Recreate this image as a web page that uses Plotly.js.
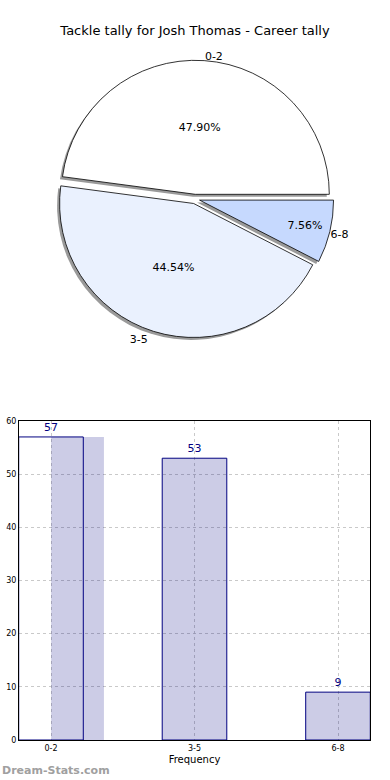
<!DOCTYPE html>
<html><head><meta charset="utf-8">
<script src="https://cdn.plot.ly/plotly-3.0.1.min.js"></script>
<style>html,body{margin:0;padding:0;background:#fff}</style>
</head><body><div id="chart" style="width:390px;height:780px"></div>
<script>
// ---- data ----
const categories = ['0-2', '3-5', '6-8'];
const tallies = [57, 53, 9];
const chartTitle = 'Tackle tally for Josh Thomas - Career tally';
const xTitle = 'Frequency';
const yTickValues = [0, 10, 20, 30, 40, 50, 60];
const watermark = 'Dream-Stats.com';

// ---- styles ----
const W = 390, H = 780;
const sliceColors = ['#ffffff', '#eaf1fe', '#c6d9fe'];
const font = 'DejaVu Sans, sans-serif';
const pullAmt = 0.035;
const pieR = 134, pieCx = 195, pieCy = 199;
const box = pieR * (2 + 2 * pullAmt);
const pd = {
  x: [(pieCx - box / 2) / W, (pieCx + box / 2) / W],
  y: [1 - (pieCy + box / 2) / H, 1 - (pieCy - box / 2) / H]
};
const sdx = -2.5 / W, sdy = -2.5 / H;
const shadowDomain = {x: [pd.x[0] + sdx, pd.x[1] + sdx], y: [pd.y[0] + sdy, pd.y[1] + sdy]};
// first slice starts at 3 o'clock and runs counter-clockwise (matplotlib style)
const total = tallies.reduce((a, b) => a + b, 0);
const rot = 90 - tallies[0] / total * 360;

// first bar fill is shifted in the original
const fillOffsets = [0.001, -0.225, -0.225];
const fillWidths = [0.368, 0.45, 0.45];

const traces = [
  {
    type: 'pie', labels: categories, values: tallies, sort: false,
    direction: 'counterclockwise', rotation: rot,
    pull: categories.map(() => pullAmt),
    domain: shadowDomain,
    marker: {colors: categories.map(() => '#9a9a9a'), line: {width: 0}},
    textinfo: 'label', textposition: 'outside',
    textfont: {family: font, size: 11, color: '#000'},
    hoverinfo: 'skip', showlegend: false
  },
  {
    type: 'pie', labels: categories, values: tallies, sort: false,
    direction: 'counterclockwise', rotation: rot,
    pull: categories.map(() => pullAmt),
    domain: pd,
    marker: {colors: sliceColors, line: {color: '#000', width: 0.8}},
    texttemplate: '%{percent:.2%}', textposition: 'inside',
    insidetextorientation: 'horizontal',
    textfont: {family: font, size: 11, color: '#000'},
    showlegend: false
  },
  {
    type: 'bar', x: categories, y: tallies,
    offset: fillOffsets, width: fillWidths,
    marker: {color: 'rgba(0,0,128,0.2)', line: {width: 0}},
    xaxis: 'x', yaxis: 'y', showlegend: false, hoverinfo: 'skip'
  },
  {
    type: 'bar', x: categories, y: tallies,
    offset: -0.225, width: 0.45,
    marker: {color: 'rgba(255,255,255,0)', line: {color: '#000080', width: 1}},
    text: tallies.map(String), textposition: 'outside', cliponaxis: false,
    textfont: {family: font, size: 11, color: '#000080'},
    xaxis: 'x', yaxis: 'y', showlegend: false
  }
];

const layout = {
  width: W, height: H,
  margin: {l: 0, r: 0, t: 0, b: 0},
  paper_bgcolor: '#fff', plot_bgcolor: '#fff',
  font: {family: font, color: '#000'},
  title: {text: chartTitle, x: 0.5, xanchor: 'center', y: 1 - 30 / H, yanchor: 'middle',
          font: {family: font, size: 13, color: '#000'}},
  barmode: 'overlay',
  xaxis: {
    domain: [19 / W, 370 / W], range: [-0.223, 2.223], type: 'category',
    showline: true, mirror: true, linecolor: '#000', linewidth: 1,
    showgrid: true, gridcolor: '#bbbbbb', griddash: 'dot', gridwidth: 0.8,
    ticks: '', tickfont: {family: font, size: 8, color: '#000'},
    title: {text: xTitle, font: {family: font, size: 10, color: '#000'}, standoff: 4},
    zeroline: false, fixedrange: true
  },
  yaxis: {
    domain: [1 - 740 / H, 1 - 421 / H], range: [0, 60],
    tickvals: yTickValues, ticktext: yTickValues.map(String),
    showline: true, mirror: true, linecolor: '#000', linewidth: 1,
    showgrid: true, gridcolor: '#bbbbbb', griddash: 'dot', gridwidth: 0.8,
    ticks: '', tickfont: {family: font, size: 8, color: '#000'},
    zeroline: false, fixedrange: true
  },
  annotations: [{
    text: '<b>' + watermark + '</b>', xref: 'paper', yref: 'paper',
    x: 0, y: 1 - 770 / H, xanchor: 'left', yanchor: 'middle', showarrow: false,
    font: {family: font, size: 11, color: '#a0a0a0'}
  }]
};

Plotly.newPlot('chart', traces, layout, {displayModeBar: false, staticPlot: true});
</script></body></html>
